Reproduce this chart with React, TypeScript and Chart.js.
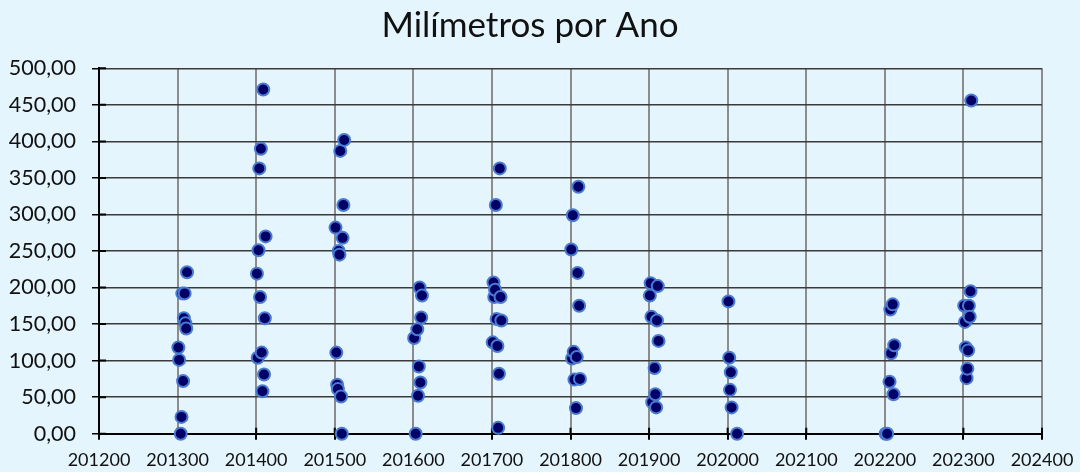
import React, { useEffect, useRef } from "react";
import { Chart, registerables } from "chart.js";

Chart.register(...registerables);

// Monthly rainfall (mm) per year; x = year*100 + month
const years = [2013, 2014, 2015, 2016, 2017, 2018, 2019, 2020, 2022, 2023];

const months2013 = [1, 2, 4, 5, 6, 7, 8, 9, 10, 11, 12];
const values2013 = [118, 101, 0, 23, 192, 72, 158, 192, 151, 144, 221];

const months2014 = [1, 2, 3, 4, 5, 6, 7, 8, 9, 10, 11, 12];
const values2014 = [219, 104, 251, 363, 187, 390, 111, 58, 471, 81, 158, 270];

const months2015 = [1, 2, 3, 4, 5, 6, 7, 8, 9, 10, 11, 12];
const values2015 = [282, 111, 67, 61, 250, 245, 387, 51, 0, 268, 313, 402];

const months2016 = [1, 3, 5, 6, 7, 8, 9, 10, 11];
const values2016 = [131, 0, 143, 52, 92, 200, 70, 159, 189];

const months2017 = [1, 2, 3, 4, 5, 6, 7, 8, 9, 10, 11, 12];
const values2017 = [125, 207, 187, 197, 313, 157, 120, 8, 82, 363, 187, 155];

const months2018 = [1, 2, 3, 4, 5, 7, 8, 9, 10, 11, 12];
const values2018 = [252, 103, 299, 112, 74, 35, 105, 220, 338, 175, 75];

const months2019 = [1, 2, 3, 4, 7, 8, 9, 10, 11, 12];
const values2019 = [189, 206, 160, 43, 90, 54, 36, 155, 202, 127];

const months2020 = [1, 2, 3, 4, 5, 12];
const values2020 = [181, 104, 60, 84, 36, 0];

const months2022 = [1, 3, 6, 7, 8, 10, 11, 12];
const values2022 = [0, 0, 71, 170, 110, 177, 54, 121];

const months2023 = [1, 2, 3, 4, 5, 6, 7, 8, 9, 10];
const values2023 = [175, 153, 118, 76, 89, 114, 175, 160, 195, 456];

const monthLists = [months2013, months2014, months2015, months2016, months2017, months2018, months2019, months2020, months2022, months2023];
const valueLists = [values2013, values2014, values2015, values2016, values2017, values2018, values2019, values2020, values2022, values2023];

const xTicks = [201200, 201300, 201400, 201500, 201600, 201700, 201800, 201900, 202000, 202100, 202200, 202300, 202400];
const yTicks = [0, 50, 100, 150, 200, 250, 300, 350, 400, 450, 500];

const FONT = "Lato, 'Open Sans', sans-serif";

const crossTicks = {
  id: "crossTicks",
  beforeDatasetsDraw(chart: any) {
    const { ctx, chartArea, scales } = chart;
    ctx.save();
    ctx.strokeStyle = "#000";
    ctx.lineWidth = 2;
    ctx.beginPath();
    for (const v of xTicks) {
      const px = scales.x.getPixelForValue(v);
      ctx.moveTo(px, chartArea.bottom);
      ctx.lineTo(px, chartArea.bottom - 6);
    }
    for (const v of yTicks) {
      const py = scales.y.getPixelForValue(v);
      ctx.moveTo(chartArea.left, py);
      ctx.lineTo(chartArea.left + 7, py);
    }
    ctx.stroke();
    ctx.restore();
  },
};

export default function App() {
  const ref = useRef<HTMLCanvasElement | null>(null);

  useEffect(() => {
    if (!ref.current) return;
    const points: { x: number; y: number }[] = [];
    years.forEach((yr, i) => {
      monthLists[i].forEach((m, j) => {
        points.push({ x: yr * 100 + m, y: valueLists[i][j] });
      });
    });

    const chart = new Chart(ref.current, {
      type: "scatter",
      data: {
        datasets: [
          {
            label: "Milímetros",
            data: points,
            backgroundColor: "#000066",
            borderColor: "#4A7BD0",
            borderWidth: 2,
            pointRadius: 6,
            clip: false as any,
          },
        ],
      },
      plugins: [crossTicks],
      options: {
        animation: false,
        responsive: false,
        devicePixelRatio: 1,
        layout: { padding: { left: 0, right: 20, top: 0, bottom: 0 } },
        plugins: {
          legend: { display: false },
          tooltip: { enabled: false },
          title: {
            display: true,
            text: "Milímetros por Ano",
            color: "#111",
            font: { family: FONT, size: 35, weight: "normal" },
            padding: { top: 5, bottom: 21.3 },
          },
        },
        scales: {
          x: {
            type: "linear",
            min: 201200,
            max: 202400,
            afterBuildTicks: (scale: any) => {
              scale.ticks = xTicks.map((v) => ({ value: v }));
            },
            afterFit: (scale: any) => {
              scale.height = 38.3;
              scale.paddingLeft = 0;
              scale.paddingRight = 38;
            },
            ticks: {
              color: "#111",
              font: { family: FONT, size: 18 },
              padding: 10,
              maxRotation: 0,
              autoSkip: false,
              callback: (v: any) => String(v),
            },
            grid: {
              color: "#8C8C8C",
              lineWidth: 2,
              tickLength: 6,
              tickColor: "#000",
            },
            border: { color: "#000", width: 2 },
          },
          y: {
            min: 0,
            max: 500,
            afterBuildTicks: (scale: any) => {
              scale.ticks = yTicks.map((v) => ({ value: v }));
            },
            afterFit: (scale: any) => {
              scale.width = 99;
            },
            ticks: {
              color: "#111",
              font: { family: FONT, size: 21.5 },
              padding: 16,
              autoSkip: false,
              callback: (v: any) => Number(v).toFixed(2).replace(".", ","),
            },
            grid: {
              color: "#3A3A3A",
              lineWidth: 1.5,
              tickLength: 7,
              tickColor: "#000",
            },
            border: { color: "#000", width: 2 },
          },
        },
      },
    });
    return () => chart.destroy();
  }, []);

  return (
    <div
      style={{
        position: "fixed",
        left: 0,
        top: 0,
        width: 1080,
        height: 472,
        background: "#E4F5FD",
      }}
    >
      <canvas ref={ref} width={1080} height={472} style={{ display: "block" }} />
    </div>
  );
}
